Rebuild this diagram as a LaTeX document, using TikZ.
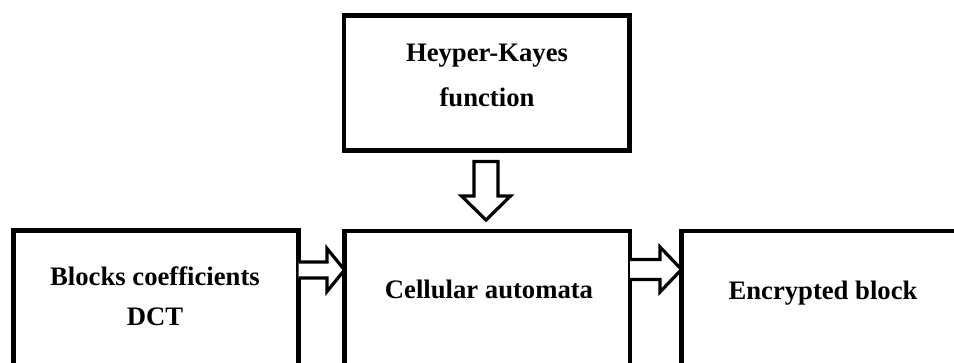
\documentclass[tikz,border=0pt]{standalone}
\usepackage{fontspec}
\setmainfont{Liberation Serif}
\usetikzlibrary{calc}
\begin{document}
\begin{tikzpicture}[x=0.75pt,y=-0.75pt,
  box/.style={draw=black,line width=3.4pt,rectangle,inner sep=0pt,outer sep=0pt,anchor=north west},
  harrow/.style={draw=black,line width=2.4pt,line join=miter,miter limit=10,fill=white},
  lbl/.style={font=\fontsize{20}{34}\selectfont\bfseries,anchor=base,inner sep=0pt}]
\useasboundingbox (0,0) rectangle (954,363);
\clip (0,0) rectangle (954,363);
% boxes
\node[box,minimum width={285.5*0.75pt},minimum height={135.2*0.75pt}] (tb) at (344,15.3) {};
\node[box,minimum width={285*0.75pt},minimum height={200*0.75pt}] (lb) at (13.5,230.5) {};
\node[box,minimum width={285.5*0.75pt},minimum height={200*0.75pt}] (mb) at (344.5,231) {};
\node[box,minimum width={320*0.75pt},minimum height={200*0.75pt}] (rb) at (681.5,231) {};
% labels
\node[lbl] (t1) at (487,62) {Heyper-Kayes};
\node[lbl] (t2) at (487,107) {function};
\node[lbl] (t3) at (155,286) {Blocks coefficients};
\node[lbl] (t4) at (155,326) {DCT};
\node[lbl] (t5) at (489,299) {Cellular automata};
\node[lbl] (t6) at (823,300) {Encrypted block};
% down arrow
\draw[harrow] ($(tb.south)+(-12.75,11)$) -- ++(24,0) -- ++(0,34.5) -- ++(12.5,0)
  -- ($(mb.north)+(-1.25,-11)$) -- ($(tb.south)+(-25.25,45.5)$) -- ++(12.5,0) -- cycle;
% left -> middle
\draw[harrow] ($(lb.north east)+(0,31.5)$) -- ++(28.5,0) -- ++(0,-13.5)
  -- ($(mb.north west)+(0,39)$) -- ++(-17.5,21.5) -- ++(0,-13.5) -- ++(-28.5,0);
% middle -> right
\draw[harrow] ($(mb.north east)+(0,28.5)$) -- ++(30,0) -- ++(0,-12.5)
  -- ($(rb.north west)+(0,38.5)$) -- ++(-21.5,22.5) -- ++(0,-12.5) -- ++(-30,0);
\end{tikzpicture}
\end{document}
